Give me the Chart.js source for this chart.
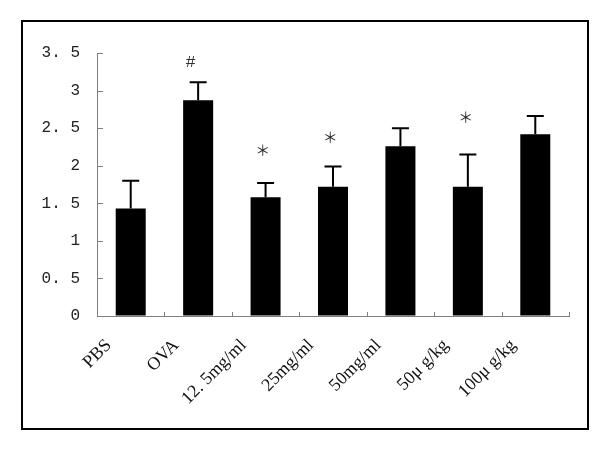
<!DOCTYPE html>
<html>
<head>
<meta charset="utf-8">
<script src="https://cdn.jsdelivr.net/npm/chart.js@4"></script>
<style>
  body { margin: 0; background: #fff; }
  canvas { display: block; }
</style>
</head>
<body>
<canvas id="chart" width="600" height="450"></canvas>
<script>
// values
let groups = ['PBS', 'OVA', '12. 5mg/ml', '25mg/ml', '50mg/ml', '50μ g/kg', '100μ g/kg'];
let means = [1.43, 2.87, 1.58, 1.72, 2.26, 1.72, 2.42];
let sd = [0.37, 0.24, 0.19, 0.27, 0.24, 0.43, 0.24];
let marks = ['', '#', '*', '*', '', '*', ''];
let markY = [null, 3.38, 2.20, 2.38, null, 2.64, null];
let markShift = [0, -0.11, -0.04, -0.04, 0, -0.03, 0];
let yTickLabels = ['0', '0. 5', '1', '1. 5', '2', '2. 5', '3', '3. 5'];

const MONO = '"Liberation Mono", monospace';
const SERIF = '"Liberation Serif", serif';
const AXIS = '#808080';

// frame, inward ticks, error bars and significance marks
const extras = {
    id: 'extras',
    afterDatasetsDraw(chart) {
        let ctx = chart.ctx;
        let x = chart.scales.x, y = chart.scales.y;
        let area = chart.chartArea;
        ctx.save();

        // outer frame
        ctx.strokeStyle = '#000';
        ctx.lineWidth = 2;
        ctx.strokeRect(22, 21, 566, 408);

        // inward ticks
        ctx.strokeStyle = AXIS;
        ctx.lineWidth = 1;
        ctx.beginPath();
        y.ticks.forEach(t => {
            let py = Math.round(y.getPixelForValue(t.value)) + 0.5;
            ctx.moveTo(area.left, py);
            ctx.lineTo(area.left + 6, py);
        });
        for (let i = 0; i < groups.length; i++) {
            let px = i < groups.length - 1
                ? (x.getPixelForValue(i) + x.getPixelForValue(i + 1)) / 2
                : area.right;
            px = Math.round(px) + 0.5;
            ctx.moveTo(px, area.bottom);
            ctx.lineTo(px, area.bottom - 4);
        }
        ctx.stroke();

        // error bars (upper only)
        ctx.strokeStyle = '#000';
        ctx.lineWidth = 2;
        ctx.beginPath();
        for (let i = 0; i < means.length; i++) {
            let px = x.getPixelForValue(i);
            let top = y.getPixelForValue(means[i] + sd[i]);
            let base = y.getPixelForValue(means[i]);
            ctx.moveTo(px, base);
            ctx.lineTo(px, top);
            ctx.moveTo(px - 8.5, top);
            ctx.lineTo(px + 8.5, top);
        }
        ctx.stroke();

        // marks
        ctx.fillStyle = '#333';
        ctx.textAlign = 'center';
        ctx.textBaseline = 'middle';
        for (let i = 0; i < marks.length; i++) {
            if (!marks[i]) continue;
            let px = x.getPixelForValue(i + markShift[i]);
            let py = y.getPixelForValue(markY[i]);
            if (marks[i] === '*') {
                ctx.font = '15px "Noto Sans CJK SC"';
                ctx.fillText('＊', px, py);
            } else {
                ctx.font = '17px ' + MONO;
                ctx.fillText(marks[i], px, py);
            }
        }
        ctx.restore();
    }
};

new Chart(document.getElementById('chart'), {
    type: 'bar',
    data: {
        labels: groups,
        datasets: [{
            data: means,
            backgroundColor: '#000',
            borderWidth: 0,
            barPercentage: 0.445,
            categoryPercentage: 1
        }]
    },
    options: {
        responsive: false,
        animation: false,
        layout: { padding: { top: 53, right: 31, left: 0, bottom: 0 } },
        plugins: { legend: { display: false }, tooltip: { enabled: false } },
        scales: {
            x: {
                grid: { display: true, drawOnChartArea: false, drawTicks: false },
                border: { display: true, color: AXIS, width: 1 },
                ticks: {
                    autoSkip: false,
                    maxRotation: 45,
                    minRotation: 45,
                    labelOffset: -22,
                    padding: 19,
                    color: '#111',
                    font: { family: SERIF, size: 18 }
                },
                afterFit(scale) { scale.height = 134; }
            },
            y: {
                min: 0,
                max: 3.5,
                grid: { display: true, drawOnChartArea: false, drawTicks: false },
                border: { display: true, color: AXIS, width: 1 },
                ticks: {
                    stepSize: 0.5,
                    padding: 17,
                    color: '#222',
                    font: { family: MONO, size: 16 },
                    callback: (v, i) => yTickLabels[i]
                },
                afterFit(scale) { scale.width = 97; }
            }
        }
    },
    plugins: [extras]
});
</script>
</body>
</html>
